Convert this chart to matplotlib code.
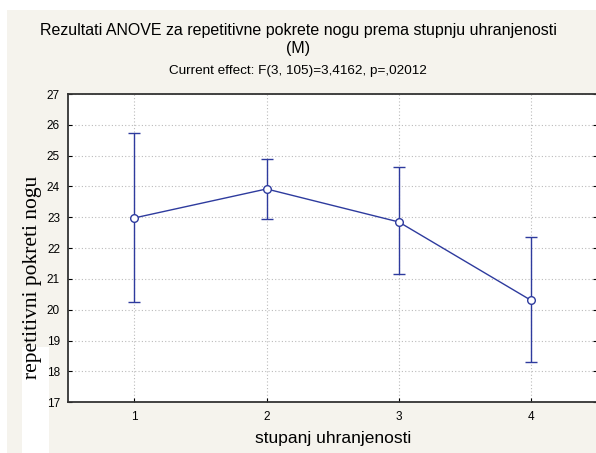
import matplotlib.pyplot as plt
from matplotlib.patches import Rectangle

groups = [1, 2, 3, 4]
means = [22.98, 23.92, 22.85, 20.31]
upper = [25.74, 24.89, 24.62, 22.35]
lower = [20.25, 22.96, 21.17, 18.31]

W, H = 596, 453
fig = plt.figure(figsize=(W / 100, H / 100), dpi=100)
fig.patch.set_facecolor('white')

# beige panel behind everything, plus the white patch under the y label
fig.patches.append(Rectangle((7 / W, 0), 1, 1 - 10 / H, transform=fig.transFigure,
                             facecolor='#f5f3ed', edgecolor='none', zorder=-2))
fig.patches.append(Rectangle((22 / W, 0), 27 / W, 1 - 347 / H, transform=fig.transFigure,
                             facecolor='white', edgecolor='none', zorder=-1))

ax = fig.add_axes([68.3 / W, 1 - 402.3 / H, (597 - 68.3) / W, (402.3 - 94) / H])
ax.set_facecolor('white')

blue = '#2e3b9e'
err = [[m - l for m, l in zip(means, lower)], [u - m for m, u in zip(means, upper)]]
ax.errorbar(groups, means, yerr=err, color=blue, lw=1.0, capsize=4.5, capthick=1.0,
            marker='o', ms=5.5, mfc='white', mec=blue, mew=1.0, zorder=3)

ax.set_xlim(0.5, 4.5)
ax.set_ylim(17, 27)
ax.set_xticks(groups)
ax.set_yticks(range(17, 28))
ax.grid(True, color='#bbbbbb', ls=(0, (1, 2)), lw=0.8)
for s in ['top', 'bottom', 'left']:
    ax.spines[s].set_linewidth(1.3)
    ax.spines[s].set_color('#333333')
ax.spines['right'].set_visible(False)
ax.tick_params(axis='both', direction='in', length=3, labelsize=8.5, pad=6,
               right=True)
for lab in ax.get_xticklabels() + ax.get_yticklabels():
    lab.set_family('Liberation Sans')

ax.set_xlabel('stupanj uhranjenosti', family='Liberation Sans', fontsize=12.5, labelpad=6)
fig.text(33 / W, 1 - 277 / H, 'repetitivni pokreti nogu', family='Liberation Serif',
         fontsize=15.5, rotation=90, ha='center', va='center')

fig.text(0.5, 1 - 30 / H, 'Rezultati ANOVE za repetitivne pokrete nogu prema stupnju uhranjenosti',
         family='Liberation Sans', fontsize=11.5, ha='center', va='center')
fig.text(0.5, 1 - 49 / H, '(M)', family='Liberation Sans', fontsize=11.5,
         ha='center', va='center')
fig.text(0.5, 1 - 71 / H, 'Current effect: F(3, 105)=3,4162, p=,02012',
         family='Liberation Sans', fontsize=9.7, ha='center', va='center')

fig.savefig('out.png', dpi=100)
